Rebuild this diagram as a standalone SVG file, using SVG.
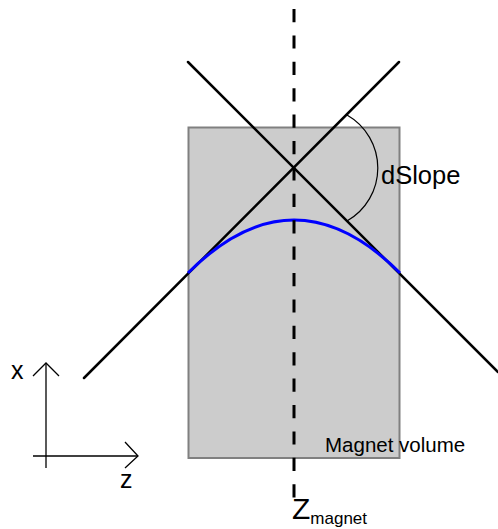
<svg xmlns="http://www.w3.org/2000/svg" width="498" height="529" viewBox="0 0 498 529">
<style>
.t{font-family:"Liberation Sans",Arial,sans-serif;fill:#000}
.ln{stroke:#000;stroke-width:2.5;fill:none;stroke-linecap:round}
.ax{stroke:#000;stroke-width:1.3;fill:none}
</style>
<rect width="498" height="529" fill="#fff"/>
<g id="magnet">
<rect x="188.5" y="127.5" width="211" height="330.5" fill="#cccccc" stroke="#808080" stroke-width="2"/>
<text class="t" x="325" y="452" font-size="20.5">Magnet volume</text>
</g>
<g id="connectors">
<line class="ln" x1="84" y1="378" x2="399" y2="62"/>
<line class="ln" x1="188" y1="62" x2="498" y2="372"/>
<path d="M188,273 Q294,167 400,273" stroke="#0000ff" stroke-width="3" fill="none"/>
<line x1="294" y1="9" x2="294" y2="498" stroke="#000" stroke-width="3" stroke-dasharray="13.2 13.2"/>
<path d="M347,115 A61,61 0 0 1 347,221" stroke="#000" stroke-width="1.2" fill="none"/>
</g>
<g id="dslope">
<text class="t" x="381" y="184" font-size="25.5">dSlope</text>
</g>
<g id="zmagnet">
<text class="t" x="292" y="519" font-size="30">Z<tspan font-size="17" dy="5">magnet</tspan></text>
</g>
<g id="axes">
<line class="ax" x1="46" y1="363" x2="46" y2="468"/>
<polyline class="ax" points="33,376 46,363 59,376"/>
<line class="ax" x1="33" y1="456" x2="138" y2="456"/>
<polyline class="ax" points="125,442 138,456 125,468"/>
<text class="t" x="11" y="379" font-size="25">x</text>
<text class="t" x="120" y="488" font-size="25">z</text>
</g>
</svg>
